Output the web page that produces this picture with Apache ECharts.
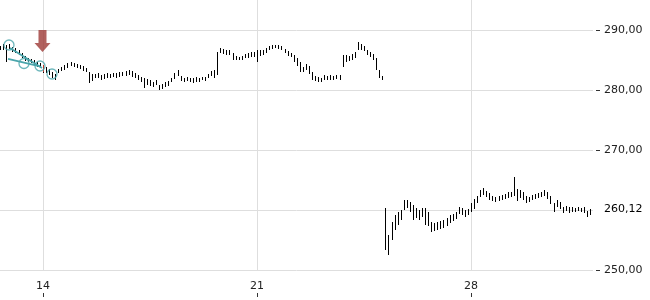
<!DOCTYPE html>
<html>
<head>
<meta charset="utf-8">
<script src="https://cdn.jsdelivr.net/npm/echarts@6/dist/echarts.min.js"></script>
<style>html,body{margin:0;padding:0;background:#fff}#c{width:650px;height:300px}</style>
</head>
<body>
<div id="c"></div>
<script>
// ---- data ----
const xTickDays = [14, 21, 28];
const yGridValues = [250, 260, 270, 280, 290];
const yLabelValues = [250, 270, 280, 290];
const lastPrice = 260.12;
// intraday bars, one every 0.1 day starting at day 12.6
const startDay = 12.6, stepDay = 0.1;
const highs = [
287.33,287.67,287.50,287.67,287.17,287.00,286.67,286.17,285.67,285.33,
285.17,285.00,284.67,284.50,284.17,283.83,283.50,283.00,282.67,283.50,
283.83,284.17,284.50,284.67,284.50,284.33,284.17,284.00,283.67,283.00,
282.67,282.67,282.83,282.50,282.67,282.83,282.67,282.83,282.83,283.00,
283.00,283.17,283.33,283.17,282.83,282.50,282.17,282.00,281.83,281.67,
281.33,281.67,280.83,281.00,281.33,281.50,282.00,282.83,283.33,282.33,
282.00,282.17,282.00,282.00,282.17,282.00,282.17,282.17,282.67,283.17,
283.33,286.33,287.00,286.83,286.67,286.67,286.17,285.67,285.50,285.67,
286.00,286.17,286.33,286.33,286.67,286.67,286.67,287.00,287.33,287.50,
287.50,287.50,287.33,286.83,286.50,286.17,285.83,285.33,284.67,283.83,
284.33,284.00,283.00,282.33,282.17,282.00,282.50,282.33,282.50,282.33,
282.50,282.50,285.83,285.83,285.67,286.00,286.33,288.00,287.67,287.33,
286.67,286.33,286.00,285.33,283.33,282.33,
260.33,255.83,258.00,259.17,259.67,260.00,261.67,261.67,261.33,260.83,
260.33,260.00,260.33,260.33,259.67,258.00,257.83,258.00,258.17,258.33,
258.67,259.17,259.33,259.67,260.50,260.33,260.00,260.17,261.17,261.83,
262.33,263.33,263.67,263.17,262.83,262.33,262.17,262.33,262.50,262.67,
263.00,263.00,265.50,263.50,263.33,263.00,262.33,262.17,262.50,262.67,
262.83,263.00,263.33,263.00,262.33,261.17,261.67,261.33,260.50,260.67,
260.50,260.50,260.33,260.50,260.33,260.50,259.83,260.17
];
const lows = [
286.67,286.67,284.67,286.83,286.33,286.17,285.83,285.33,284.83,284.67,
284.50,284.17,283.83,283.67,282.83,282.83,282.50,282.00,281.67,282.83,
283.17,283.33,283.67,284.00,283.83,283.67,283.50,283.17,283.00,281.17,
281.50,282.00,282.00,281.67,281.83,282.00,282.00,282.17,282.00,282.17,
282.33,282.33,282.50,282.17,282.00,281.67,281.33,280.33,280.83,280.67,
280.50,280.83,280.00,280.17,280.50,280.67,281.33,281.83,282.33,281.50,
281.33,281.50,281.33,281.17,281.33,281.33,281.67,281.50,282.00,282.33,
282.00,282.50,286.17,286.00,285.83,285.83,285.00,285.00,285.00,285.00,
285.33,285.33,285.50,285.50,284.67,285.67,285.83,286.17,286.67,286.83,
287.00,286.83,286.67,286.17,285.67,285.50,284.67,284.00,283.00,283.00,
283.33,282.67,281.67,281.50,281.33,281.33,281.67,281.67,281.67,281.67,
281.83,281.67,283.83,284.67,284.83,285.00,285.33,286.67,286.67,286.50,
285.83,285.50,285.00,283.33,282.00,281.67,
253.33,252.50,255.00,256.67,257.50,258.33,260.00,260.33,259.67,258.33,
258.67,258.33,258.83,257.50,257.33,256.33,256.50,256.67,256.83,257.00,
257.33,257.83,258.17,258.50,259.33,259.17,258.83,259.17,259.67,260.17,
261.17,262.17,262.50,262.17,261.67,261.50,261.33,261.50,261.67,261.83,
262.00,262.17,262.33,261.50,262.00,261.67,261.17,261.33,261.67,261.83,
262.00,262.17,262.33,261.83,261.00,259.67,260.50,260.17,259.50,259.83,
259.50,259.67,259.67,259.83,259.67,259.50,258.83,259.17
];
// highlighted (signal) bar
const signalBars = [[14.0, 283.0, 284.2]];
// pattern annotation (teal)
const patternCircles = [[12.887, 287.5], [13.378, 284.42], [13.902, 284.0], [14.294, 282.67]];
const patternUpper = [[12.92, 287.0], [13.967, 283.67]];
const patternLower = [[12.855, 285.17], [13.902, 283.92]];
// signal arrow position
const arrowPoint = [[13.983, 288.17]];

// ---- build ----
const times = highs.map((_, i) => +(startDay + i * stepDay).toFixed(2));
const bars = times.map((t, i) => [t, lows[i], highs[i]]);
const fmt = v => v.toFixed(2).replace('.', ',');

function barRenderer(color) {
  return function (params, api) {
    const t = api.value(0), lo = api.value(1), hi = api.value(2);
    const p1 = api.coord([t, hi]), p2 = api.coord([t, lo]);
    const x = Math.round(p1[0]) + 0.5;
    let y1 = Math.round(p1[1]), y2 = Math.round(p2[1]);
    if (y2 - y1 < 1) y2 = y1 + 1;
    return { type: 'line', shape: { x1: x, y1: y1, x2: x, y2: y2 },
      style: { stroke: color, lineWidth: 1 } };
  };
}

const XMIN = 12.593, XMAX = 31.991;
const font = 'DejaVu Sans';
const chart = echarts.init(document.getElementById('c'), null, { renderer: 'canvas' });
chart.setOption({
  animation: false,
  backgroundColor: '#fff',
  grid: { left: 0, right: 57, top: 0, bottom: 30, containLabel: false },
  xAxis: [{
    type: 'value', min: XMIN, max: XMAX,
    axisLine: { show: false },
    axisTick: { show: false, customValues: xTickDays },
    axisLabel: { customValues: xTickDays, margin: 11, fontSize: 11, color: '#222', fontFamily: font },
    splitLine: { show: true, lineStyle: { color: '#dedede', width: 1 } }
  }, {
    type: 'value', min: XMIN, max: XMAX, position: 'bottom', offset: 23,
    axisLine: { show: false },
    axisTick: { show: true, length: 4, customValues: xTickDays, lineStyle: { color: '#333' } },
    axisLabel: { show: false },
    splitLine: { show: false }
  }],
  yAxis: [{
    type: 'value', position: 'right', min: 250, max: 295, offset: 3,
    axisLine: { show: false },
    axisTick: { show: false, customValues: yGridValues },
    axisLabel: { customValues: yLabelValues, margin: 8, fontSize: 11, color: '#222', fontFamily: font,
      formatter: v => fmt(v) },
    splitLine: { show: true, lineStyle: { color: '#dedede', width: 1 } }
  }, {
    type: 'value', position: 'right', min: 250, max: 295, offset: 3,
    axisLine: { show: false },
    axisTick: { show: true, length: 4, customValues: yLabelValues, lineStyle: { color: '#333' } },
    axisLabel: { show: false },
    splitLine: { show: false }
  }, {
    type: 'value', position: 'right', min: 250, max: 295, offset: 3,
    axisLine: { show: false },
    axisTick: { show: false, customValues: [lastPrice] },
    axisLabel: { customValues: [lastPrice], margin: 8, fontSize: 11, color: '#000', fontFamily: font,
      formatter: v => fmt(v) },
    splitLine: { show: false }
  }],
  series: [{
    type: 'custom', xAxisIndex: 0, yAxisIndex: 0,
    renderItem: barRenderer('#000'),
    encode: { x: 0, y: [1, 2] },
    data: bars
  }, {
    type: 'custom', xAxisIndex: 0, yAxisIndex: 0,
    renderItem: barRenderer('#c0392b'),
    encode: { x: 0, y: [1, 2] },
    data: signalBars, z: 3
  }, {
    type: 'line', xAxisIndex: 0, yAxisIndex: 0, data: patternUpper, symbol: 'none',
    lineStyle: { color: '#4aa5ab', width: 1.8 }, z: 4
  }, {
    type: 'line', xAxisIndex: 0, yAxisIndex: 0, data: patternLower, symbol: 'none',
    lineStyle: { color: '#4aa5ab', width: 1.8 }, z: 4
  }, {
    type: 'scatter', xAxisIndex: 0, yAxisIndex: 0, data: patternCircles, symbol: 'circle', symbolSize: 10,
    itemStyle: { color: 'rgba(255,255,255,0)', borderColor: '#4aa5ab', borderWidth: 1.3 }, z: 5
  }, {
    type: 'scatter', xAxisIndex: 0, yAxisIndex: 0, data: arrowPoint,
    symbol: 'path://M4,0 L12,0 L12,13 L16,13 L8,22 L0,13 L4,13 Z',
    symbolSize: [16, 22], symbolKeepAspect: false,
    itemStyle: { color: '#9e3a36' }, z: 6
  }]
});
</script>
</body>
</html>
